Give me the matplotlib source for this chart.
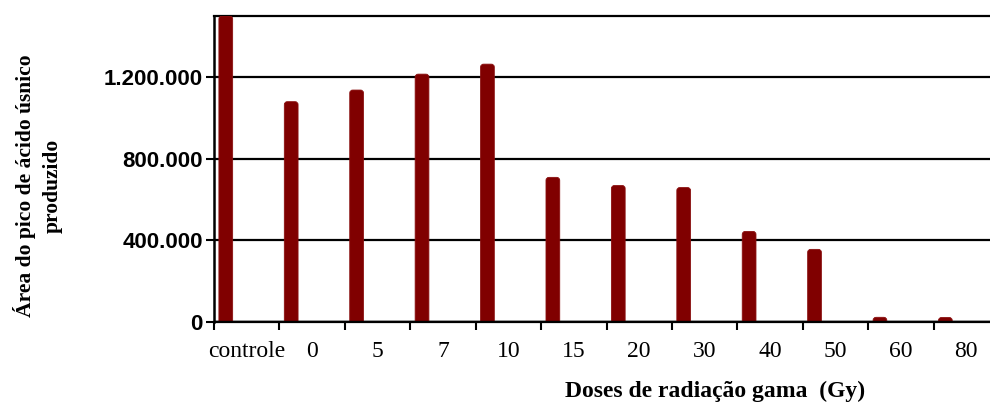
import matplotlib.pyplot as plt
import numpy as np
from matplotlib.patches import FancyBboxPatch
from matplotlib.ticker import FixedLocator, FuncFormatter

# doses de radiação gama (Gy) e área do pico de ácido úsnico
doses = ['controle', '0', '5', '7', '10', '15', '20', '30', '40', '50', '60', '80']
area = [1500000, 1080000, 1137000, 1215000, 1264000, 709000,
        669000, 659000, 444000, 356000, 23000, 22000]
yticks = [0, 400000, 800000, 1200000]

serif = 'Liberation Serif'
sans = 'Liberation Sans'

fig = plt.figure(figsize=(9.9, 4.03), dpi=100)
ax = fig.add_axes([214 / 990, 81 / 403, 785 / 990, 306 / 403])

ax.set_xlim(-0.5, len(doses) - 0.5)
ax.set_ylim(0, 1500000)

# barras com topo arredondado (px -> unidades de dados)
x = np.arange(len(doses))
w = 0.21
px_x = 785 / len(doses)          # px por categoria
px_y = 306 / 1500000             # px por unidade y
r = 3 / px_x
aspect = (3 / px_y) / r
base = -40000
for xi, v in zip(x, area):
    p = FancyBboxPatch((xi - 0.32 - w / 2, base), w, v - base,
                       boxstyle=f'round,pad=0,rounding_size={r}',
                       mutation_aspect=aspect, facecolor='#800000',
                       edgecolor='#8a1010', linewidth=0.6, zorder=3)
    ax.add_patch(p)

# gridlines
ax.yaxis.set_major_locator(FixedLocator(yticks))
ax.yaxis.set_major_formatter(FuncFormatter(lambda v, p: f'{int(v):,}'.replace(',', '.')))
ax.grid(axis='y', color='black', linewidth=1.6, zorder=1)
ax.axhline(0, color='black', linewidth=2.5, zorder=4)

ax.set_xticks(x)
ax.set_xticklabels(doses, fontfamily=serif, fontsize=17)
ax.set_xticks(np.arange(len(doses)) - 0.5, minor=True)
ax.tick_params(axis='x', which='major', length=0, pad=14)
ax.tick_params(axis='x', which='minor', length=6, width=1.5, direction='out')
ax.tick_params(axis='y', length=6, width=1.5, pad=2)
for t in ax.get_yticklabels():
    t.set_fontfamily(sans)
    t.set_fontweight('bold')
    t.set_fontsize(16)

ax.spines['right'].set_visible(False)
ax.spines['left'].set_linewidth(1.8)
ax.spines['top'].set_linewidth(1.6)
ax.spines['bottom'].set_linewidth(1.6)

fig.text(715 / 990, 1 - 391 / 403, 'Doses de radiação gama  (Gy)', ha='center', va='center',
         fontfamily=serif, fontweight='bold', fontsize=17)
fig.text(38 / 990, 1 - 186 / 403, 'Área do pico de ácido úsnico\nproduzido',
         ha='center', va='center', rotation=90, fontfamily=serif,
         fontweight='bold', fontsize=15.5, linespacing=1.45)

fig.savefig('out.png', dpi=100)
